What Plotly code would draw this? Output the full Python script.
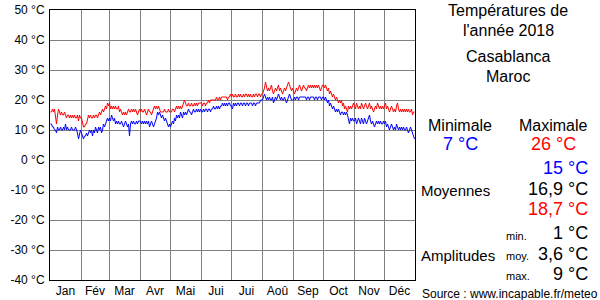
import plotly.graph_objects as go

months = ["Jan", "Fév", "Mar", "Avr", "Mai", "Jui", "Jui", "Aoû", "Sep", "Oct", "Nov", "Déc"]

tmax = {
    "Jan": [16,16,17,16,17,13,12,15,17,16,15,16,15,15,16,15,14,15,15,14,15,14,15,14,15,14,14,15,13,15,14],
    "Fév": [14,12,11,11,12,12,14,15,14,15,14,14,15,14,15,15,14,15,16,15,16,17,16,17,18,17,19,18],
    "Mar": [19,17,18,17,18,17,18,17,17,18,16,17,16,15,16,15,16,15,16,17,16,16,17,16,17,16,17,16,15,16,17],
    "Avr": [16,17,16,16,17,16,15,16,17,16,16,15,16,17,18,17,18,17,18,17,16,16,16,16,17,16,16,16,17,16],
    "Mai": [16,16,17,17,16,17,18,17,18,17,18,17,18,19,20,19,18,18,19,18,18,19,18,18,19,18,19,18,19,19,19],
    "Juin": [19,18,19,19,18,19,19,20,19,20,20,20,20,20,20,21,20,20,21,20,21,21,21,21,21,21,20,21,21,22],
    "Juil": [21,22,21,21,22,21,21,22,21,22,21,21,22,21,22,22,21,22,21,22,21,21,22,21,22,22,21,22,22,21,22],
    "Aoû": [22,23,24,26,24,23,24,23,24,25,23,22,23,24,23,24,25,23,24,23,22,23,24,23,24,25,26,25,24,23,24],
    "Sep": [23,22,23,24,23,24,25,24,23,24,25,24,24,23,24,25,24,25,24,25,24,25,24,25,24,25,24,23,24,25],
    "Oct": [25,24,25,24,23,24,22,23,22,21,22,21,20,21,20,19,20,19,20,18,19,17,18,17,16,18,17,18,17,18,19],
    "Nov": [18,17,19,18,17,18,17,19,18,17,18,19,18,17,18,19,17,18,17,16,17,18,17,19,18,17,18,17,18,17],
    "Déc": [18,19,17,18,17,16,17,18,17,16,17,16,18,19,17,16,17,16,17,16,17,16,17,16,17,16,16,17,15,16,16],
}
tmin = {
    "Jan": [12,12,11,11,10,10,9,11,10,10,11,10,10,11,10,12,10,11,10,10,10,11,10,10,10,11,10,9,7,9,10],
    "Fév": [9,8,7,8,8,9,8,9,10,9,10,8,10,9,11,10,9,11,10,11,9,10,12,11,12,13,14,13],
    "Mar": [14,13,15,14,13,14,12,13,12,13,12,12,13,12,11,12,13,12,11,12,8,12,13,12,13,12,12,13,12,13,13],
    "Avr": [13,12,13,12,13,12,13,12,13,11,12,13,12,11,12,13,14,16,15,16,15,14,15,14,13,14,13,12,11,12],
    "Mai": [11,12,13,12,14,13,15,14,15,14,16,15,14,16,15,16,15,16,17,16,16,15,16,17,16,16,17,16,17,16,17],
    "Juin": [16,16,17,16,17,17,16,17,17,16,17,17,18,17,17,18,17,18,17,18,18,19,18,19,18,19,18,19,19,18],
    "Juil": [18,17,19,18,19,18,19,19,18,19,19,18,19,19,18,19,19,18,19,19,19,18,19,19,18,19,19,19,19,20,20],
    "Aoû": [20,21,22,21,20,21,20,21,20,20,21,19,20,21,20,21,22,21,20,21,20,20,21,20,19,20,21,22,21,20,20],
    "Sep": [20,21,20,21,21,20,21,21,21,21,21,21,21,20,21,21,20,21,21,21,21,20,21,21,20,21,21,21,20,21],
    "Oct": [21,20,21,20,19,20,18,19,18,17,18,17,16,17,16,17,16,15,16,16,15,16,15,16,15,13,12,14,13,14,13],
    "Nov": [13,14,12,13,14,13,12,14,13,12,14,13,12,13,14,15,13,12,13,12,11,12,13,12,13,12,13,12,12,13],
    "Déc": [12,13,11,12,11,10,11,12,11,10,11,10,12,11,10,11,10,11,10,11,10,10,11,10,9,10,11,10,9,8,7],
}
month_keys = ["Jan", "Fév", "Mar", "Avr", "Mai", "Juin", "Juil", "Aoû", "Sep", "Oct", "Nov", "Déc"]
month_days = [31, 28, 31, 30, 31, 30, 31, 31, 30, 31, 30, 31]

y_ticks = [50, 40, 30, 20, 10, 0, -10, -20, -30, -40]
y_labels = [f"{v} °C" for v in y_ticks]

# day positions
starts = [0]
for d in month_days:
    starts.append(starts[-1] + d)

xs, ymax, ymin = [], [], []
for k, s in zip(month_keys, starts):
    for i, (a, b) in enumerate(zip(tmax[k], tmin[k])):
        xs.append(s + i + 0.5)
        ymax.append(a)
        ymin.append(b)

mids = [(starts[i] + starts[i + 1]) / 2 for i in range(12)]

FONT = "Liberation Sans, Arial, sans-serif"

fig = go.Figure()
fig.add_trace(go.Scatter(x=xs, y=ymax, mode="lines", line=dict(color="#ff0000", width=1), hoverinfo="skip"))
fig.add_trace(go.Scatter(x=xs, y=ymin, mode="lines", line=dict(color="#0000ff", width=1), hoverinfo="skip"))

L, R, T, B = 50, 415, 10, 280


def P(x, y):
    return (x - L) / (R - L), (B - y) / (B - T)


annots = []


def txt(text, x, y, size, color="black", anchor="center"):
    px, py = P(x, y)
    annots.append(dict(text=text, x=px, y=py, xref="paper", yref="paper", xanchor=anchor,
                       yanchor="middle", showarrow=False, borderpad=0,
                       font=dict(size=size, color=color, family=FONT)))


txt("Températures de", 508, 11, 16)
txt("l'année 2018", 508, 31, 16)
txt("Casablanca", 508, 57, 16)
txt("Maroc", 508, 76, 16)
txt("Minimale", 460, 125, 16)
txt("Maximale", 553, 125, 16)
txt("7 °C", 460, 144, 18, "#0000ff")
txt("26 °C", 553, 144, 18, "#ff0000")
txt("15 °C", 589, 168, 18, "#0000ff", "right")
txt("Moyennes", 420, 190, 15, "black", "left")
txt("16,9 °C", 589, 189, 18, "black", "right")
txt("18,7 °C", 589, 209, 18, "#ff0000", "right")
txt("min.", 505, 236, 11, "black", "left")
txt("1 °C", 589, 233, 18, "black", "right")
txt("Amplitudes", 420, 255, 15, "black", "left")
txt("moy.", 505, 256, 11, "black", "left")
txt("3,6 °C", 589, 254, 18, "black", "right")
txt("max.", 505, 276, 11, "black", "left")
txt("9 °C", 589, 274, 18, "black", "right")
txt("Source : www.incapable.fr/meteo", 421, 294, 12, "black", "left")

fig.update_layout(
    width=600, height=300,
    margin=dict(l=L, r=600 - R, t=T, b=300 - B, pad=0, autoexpand=False),
    paper_bgcolor="white", plot_bgcolor="white",
    showlegend=False,
    font=dict(family=FONT, size=12, color="black"),
    annotations=annots,
    xaxis=dict(
        range=[0, 365], tickmode="array", tickvals=mids, ticktext=months,
        showgrid=False, zeroline=False, ticks="", automargin=False,
        showline=True, linecolor="black", linewidth=1, mirror=True,
        tickfont=dict(size=12, family=FONT, color="black"),
        minor=dict(tickmode="array", tickvals=starts[1:-1], showgrid=True,
                   gridcolor="#808080", gridwidth=1, ticks=""),
        fixedrange=True,
    ),
    yaxis=dict(
        range=[-40, 50], tickmode="array", tickvals=y_ticks, ticktext=y_labels,
        showgrid=True, gridcolor="#808080", gridwidth=1, zeroline=False, ticks="",
        automargin=False, ticklabelstandoff=2,
        showline=True, linecolor="black", linewidth=1, mirror=True,
        tickfont=dict(size=12, family=FONT, color="black"),
        fixedrange=True,
    ),
)

fig.write_html("out.html")
